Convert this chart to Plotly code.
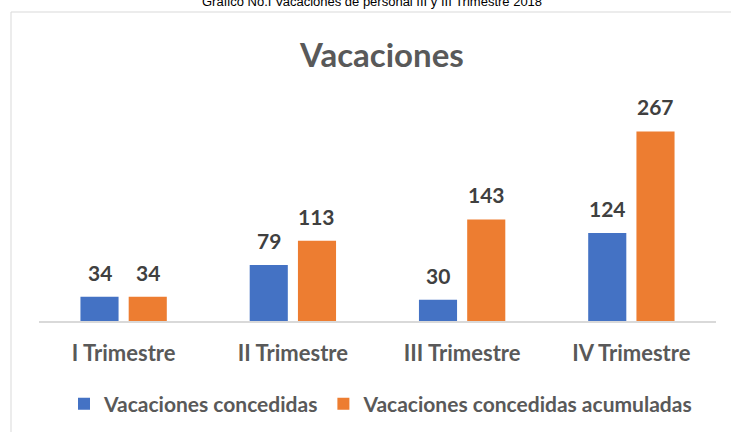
import plotly.graph_objects as go

categories = ["I Trimestre", "II Trimestre", "III Trimestre", "IV Trimestre"]
concedidas = [34, 79, 30, 124]
acumuladas = [34, 113, 143, 267]
series_names = ["Vacaciones concedidas", "Vacaciones concedidas acumuladas"]
colors = ["#4472C4", "#ED7D31"]

W, H = 731, 432
L, R, T, B = 39, 15, 108, 111
pw, ph = W - L - R, H - T - B

def px(x):
    return (x - L) / pw

def py(y):
    return (H - B - y) / ph

FONT = "Lato"

fig = go.Figure()
for name, vals, col in zip(series_names, [concedidas, acumuladas], colors):
    fig.add_trace(go.Bar(
        x=categories, y=vals, name=name, marker=dict(color=col, line=dict(width=0)),
        cliponaxis=False,
    ))

# data labels anchored to each bar's value
for shift, vals in zip([-24, 24], [concedidas, acumuladas]):
    for cat, v in zip(categories, vals):
        fig.add_annotation(x=cat, y=v, xref="x", yref="y", text=str(v), showarrow=False,
                           xanchor="center", yanchor="bottom", xshift=shift, yshift=10,
                           font=dict(family=FONT, size=21, color="#404040", weight="bold"))

fig.update_layout(
    width=W, height=H,
    margin=dict(l=L, r=R, t=T, b=B, autoexpand=False),
    paper_bgcolor="white", plot_bgcolor="white",
    barmode="group", bargap=0.43, bargroupgap=0.21,
    showlegend=True,
    legend=dict(orientation="h", x=px(381), xanchor="center", y=py(404), yanchor="middle",
                font=dict(family=FONT, size=21, color="#595959", weight="bold"),
                itemwidth=30, tracegroupgap=0),
    xaxis=dict(showline=True, linecolor="#d9d9d9", linewidth=1.5, ticks="",
               tickfont=dict(family=FONT, size=22, color="#595959", weight="bold"),
               ticklabelstandoff=12, showgrid=False, zeroline=False),
    yaxis=dict(range=[0, 300], visible=False, showgrid=False, zeroline=False),
)

fig.add_annotation(text="Vacaciones", xref="paper", yref="paper", x=px(381), y=py(54),
                   xanchor="center", yanchor="middle", showarrow=False,
                   font=dict(family=FONT, size=33, color="#595959", weight="bold"))
fig.add_annotation(text="Gráfico No.I Vacaciones de personal III y III Trimestre 2018",
                   xref="paper", yref="paper", x=px(372), y=py(2), xanchor="center",
                   yanchor="middle", showarrow=False,
                   font=dict(family="Liberation Sans", size=13, color="#000000"))
fig.add_shape(type="rect", xref="paper", yref="paper", x0=px(11), x1=px(760),
              y0=py(460), y1=py(12), line=dict(color="#d9d9d9", width=1), layer="below")

fig.write_html("out.html", config={"displayModeBar": False},
               post_script="document.body.style.margin='0';")
